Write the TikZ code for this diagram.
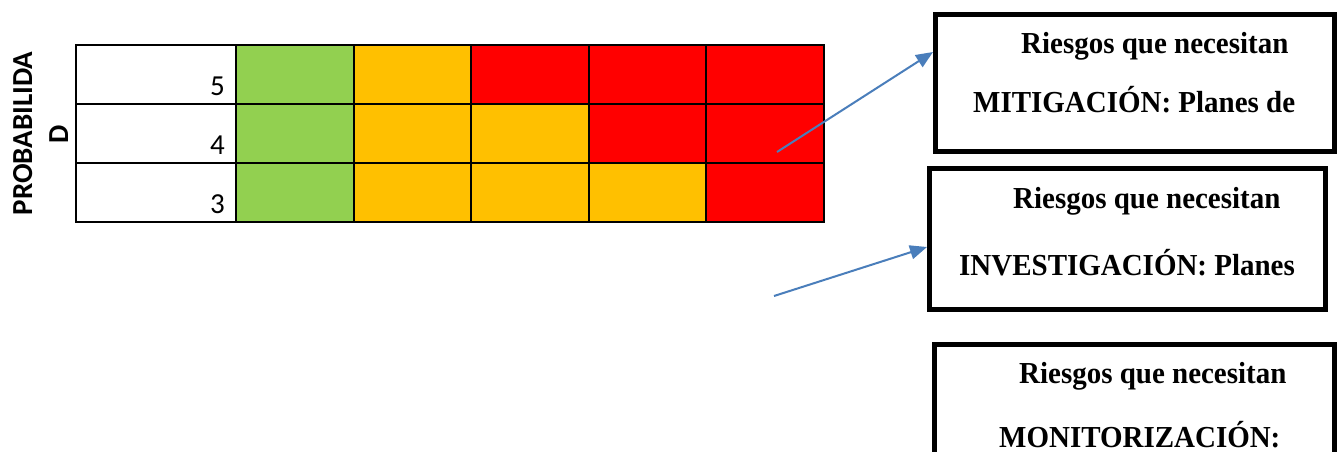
\documentclass[tikz,border=0pt]{standalone}
\usepackage{fontspec}
\setmainfont{Liberation Serif}
\newfontfamily\serifa[FakeStretch=0.95]{Liberation Serif}
\newfontfamily\calibri{Carlito}
\usetikzlibrary{arrows.meta,calc}

\definecolor{verde}{HTML}{92D050}
\definecolor{naranja}{HTML}{FFC000}
\definecolor{rojo}{HTML}{FF0000}
\definecolor{flechaazul}{HTML}{4A7EBB}

\newcommand*{\colA}{76}
\newcommand*{\colW}{117.5}
\newcommand*{\filH}{59}

\begin{document}
\begin{tikzpicture}
[
	x=1pt, y=-1pt,
	celda/.style={draw,line width=2pt,outer sep=0pt,inner sep=0pt,anchor=north west,minimum height=\filH pt},
	numero/.style={font=\calibri\fontsize{29}{33}\selectfont,anchor=base east,inner sep=0pt},
	eje/.style={font=\calibri\bfseries\fontsize{29}{34}\selectfont,rotate=90,anchor=base,inner sep=0pt},
	caja/.style={draw,line width=5pt,anchor=north west,inner sep=0pt},
	texto/.style={font=\serifa\bfseries\fontsize{30.5}{35}\selectfont,anchor=base west,inner sep=0pt},
	flecha/.style={-{Triangle[length=17pt,width=14pt]},flechaazul,line width=2pt}
]

	\clip (0,0) rectangle (1341,451);

	% eje vertical
	\node[eje] (prob) at (32,133.5) {PROBABILIDA};
	\node[eje] (probd) at (68,134) {D};

	% matriz
	\foreach \fila/\num/\colores in {0/5/{verde,naranja,rojo,rojo,rojo},
	                                  1/4/{verde,naranja,naranja,rojo,rojo},
	                                  2/3/{verde,naranja,naranja,naranja,rojo}}
	{
		\node[celda,minimum width=160pt] (f\num) at (\colA,45+\fila*\filH) {};
		\node[numero] (n\num) at ($(f\num.south east)+(-11,-9)$) {\num};
		\foreach \c [count=\i] in \colores
			\node[celda,fill=\c,minimum width=\colW pt] (c\num\i) at (236+\i*\colW-\colW,45+\fila*\filH) {};
	}

	% cuadros de texto
	\node[caja,minimum width=399pt,minimum height=137pt] (mit) at (933,12) {};
	\node[texto] (mit1) at (1021,53) {Riesgos que necesitan};
	\node[texto] (mit2) at (973,112) {MITIGACIÓN: Planes de};

	\node[caja,minimum width=396pt,minimum height=141pt] (inv) at (927,166) {};
	\node[texto] (inv1) at (1013,208) {Riesgos que necesitan};
	\node[texto] (inv2) at (959,275) {INVESTIGACIÓN: Planes};

	\node[caja,minimum width=400pt,minimum height=140pt] (mon) at (932,342) {};
	\node[texto] (mon1) at (1019,383) {Riesgos que necesitan};
	\node[texto] (mon2) at (999,447) {MONITORIZACIÓN:};

	% flechas
	\coordinate (p1) at (777,152);
	\coordinate (p2) at (774,296);
	\draw[flecha] (p1) -- ($(mit.north west)+(0,40)$);
	\draw[flecha] (p2) -- ($(inv.north west)+(0,81)$);

\end{tikzpicture}
\end{document}
